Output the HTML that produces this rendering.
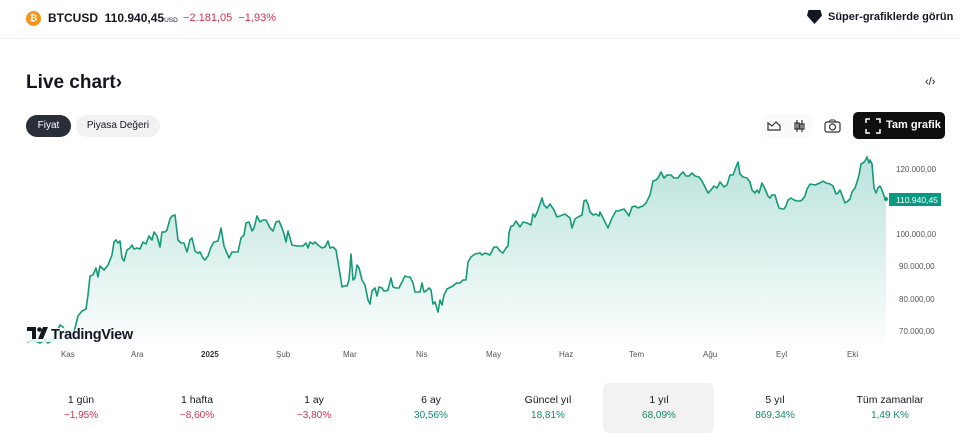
<!DOCTYPE html>
<html><head><meta charset="utf-8"><style>
*{margin:0;padding:0;box-sizing:border-box}
body{width:960px;height:428px;background:#fff;font-family:"Liberation Sans",sans-serif;color:#131722;position:relative;overflow:hidden}
.a{position:absolute;white-space:nowrap}
.x{font-size:8px;color:#555}
.y{font-size:8px;color:#555}
.p{font-size:10.5px;text-align:center;width:110px}
.v{font-size:10px;text-align:center;width:110px}
.r{color:#d0314b}.g{color:#13896d}
</style></head><body>
<div class="a" style="left:0;top:38px;width:960px;height:1px;background:#eee"></div>
<div class="a" style="left:26px;top:11px;width:15px;height:15px;border-radius:50%;background:#f7931a;color:#fff;font-size:9px;font-weight:bold;text-align:center;line-height:15px">₿</div>
<div class="a" style="left:48px;top:11px;font-size:12px;font-weight:bold">BTCUSD&nbsp; 110.940,45<span style="font-size:6.5px;font-weight:normal">USD</span></div>
<div class="a r" style="left:183px;top:12px;font-size:11px">−2.181,05&nbsp; −1,93%</div>
<div class="a" style="left:807px;top:10px;width:15px;height:14px;background:#131722;clip-path:polygon(10% 0,90% 0,100% 40%,50% 100%,0 40%)"></div>
<div class="a" style="left:828px;top:11px;font-size:11px;font-weight:bold">Süper-grafiklerde görün</div>
<div class="a" style="left:26px;top:72px;font-size:19px;font-weight:bold">Live chart›</div>
<div class="a" style="left:925px;top:76px;font-size:11px">‹/›</div>
<div class="a" style="left:26px;top:115px;width:45px;height:22px;border-radius:11px;background:#2a2e39;color:#fff;font-size:10px;line-height:22px;text-align:center">Fiyat</div>
<div class="a" style="left:76px;top:115px;width:84px;height:22px;border-radius:11px;background:#f2f2f2;font-size:10px;line-height:22px;text-align:center">Piyasa Değeri</div>
<div class="a" style="left:762px;top:113px;width:50px;height:25px;border-radius:5px;background:#fafafa"></div>
<svg class="a" style="left:766px;top:117px" width="44" height="18"><path d="M2 13 L2 6 L6 9 L10 5 L14 9 L14 13Z" fill="none" stroke="#333" stroke-width="1.2"/><path d="M31 3v12M29 6h4v6h-4zM36 3v12M34 7h4v5h-4z" fill="none" stroke="#333" stroke-width="1.2"/></svg>
<svg class="a" style="left:823px;top:117px" width="20" height="18"><rect x="2" y="5" width="15" height="10" rx="2" fill="none" stroke="#333" stroke-width="1.2"/><circle cx="9.5" cy="10" r="3" fill="none" stroke="#333" stroke-width="1.2"/><path d="M6 5l1.5-2h4L13 5" fill="none" stroke="#333"/></svg>
<div class="a" style="left:853px;top:112px;width:92px;height:27px;border-radius:5px;background:#0f0f0f;color:#fff;font-size:11px;font-weight:bold;line-height:27px;padding-left:33px">Tam grafik</div>
<svg class="a" style="left:865px;top:118px" width="16" height="16"><path d="M1 5V1h4M11 1h4v4M15 11v4h-4M5 15H1v-4" fill="none" stroke="#fff" stroke-width="1.5"/></svg>
<svg class="a" style="left:0;top:0" width="960" height="428">
<defs><linearGradient id="gr" x1="0" y1="0" x2="0" y2="1"><stop offset="0" stop-color="#089981" stop-opacity="0.28"/><stop offset="1" stop-color="#089981" stop-opacity="0.01"/></linearGradient></defs>
<path d="M27,342 L33,340 40,343 45,340 48,343 53,340 60,325 63,327 70,338 75,328 78,316 82,311 86,309 88,295 90,276 93,275 96,268 98,277 100,266 104,270 108,265 112,255 114,242 116,240 118,243 120,241 122,258 124,261 127,250 130,248 132,245 134,249 137,248 140,249 143,242 146,244 149,236 152,240 154,232 157,236 160,247 162,232 165,232 167,230 170,219 172,216 175,215 178,240 181,243 184,243 187,252 190,240 192,238 195,251 198,253 200,252 203,258 205,260 208,256 211,247 214,242 218,241 221,228 224,246 229,258 232,252 238,252 241,238 244,235 246,223 249,222 252,231 254,228 257,216 260,222 263,220 266,220 270,228 273,231 276,222 279,221 282,228 284,234 286,242 288,231 292,245 297,246 303,246 306,243 308,248 310,242 313,244 315,242 318,245 322,248 325,247 328,241 330,248 333,247 336,250 338,262 340,274 342,287 344,286 347,286 349,280 351,254 353,280 355,278 357,265 359,268 362,280 365,285 368,300 370,304 372,291 375,288 377,296 379,287 382,288 384,291 386,291 388,290 391,278 393,287 396,288 399,288 402,282 405,276 408,277 410,277 413,283 415,292 418,292 420,292 422,283 424,292 426,291 429,288 431,290 433,304 435,302 438,312 440,300 442,305 444,295 447,289 449,288 451,287 453,286 455,284 457,283 460,283 463,280 466,280 468,262 471,257 475,254 480,253 482,255 485,253 490,255 494,247 497,247 500,251 503,253 506,248 508,246 509,233 511,226 513,226 516,221 520,227 523,222 527,223 531,225 533,214 535,217 538,210 542,198 544,205 547,208 550,204 554,210 557,217 560,216 565,214 570,218 572,228 575,219 578,217 582,215 584,201 586,200 588,204 590,212 593,215 596,214 599,216 600,212 604,220 608,228 612,218 616,211 618,211 621,210 624,209 627,213 629,216 632,207 635,206 638,208 640,207 643,206 646,203 650,195 653,181 656,180 658,178 661,172 664,178 667,175 671,175 674,178 678,178 680,175 683,172 686,176 689,176 692,173 695,176 699,177 702,181 705,187 708,193 711,190 714,186 717,188 720,182 724,187 727,185 730,175 733,175 736,167 738,162 740,174 743,177 747,178 750,182 752,190 755,193 757,190 759,193 762,183 765,189 768,196 770,198 772,195 775,195 777,202 779,208 782,209 784,209 786,206 788,200 791,198 794,200 797,201 800,201 802,200 805,196 807,189 810,184 815,185 820,183 823,181 826,183 830,184 833,186 836,194 838,193 840,190 842,195 845,203 848,201 850,199 852,192 855,188 857,182 859,175 861,164 863,163 865,161 867,157 869,163 870,160 872,164 874,188 876,193 878,188 880,186 882,190 884,196 886,199 L886,345 L27,345Z" fill="url(#gr)"/>
<path d="M27,342 L33,340 40,343 45,340 48,343 53,340 60,325 63,327 70,338 75,328 78,316 82,311 86,309 88,295 90,276 93,275 96,268 98,277 100,266 104,270 108,265 112,255 114,242 116,240 118,243 120,241 122,258 124,261 127,250 130,248 132,245 134,249 137,248 140,249 143,242 146,244 149,236 152,240 154,232 157,236 160,247 162,232 165,232 167,230 170,219 172,216 175,215 178,240 181,243 184,243 187,252 190,240 192,238 195,251 198,253 200,252 203,258 205,260 208,256 211,247 214,242 218,241 221,228 224,246 229,258 232,252 238,252 241,238 244,235 246,223 249,222 252,231 254,228 257,216 260,222 263,220 266,220 270,228 273,231 276,222 279,221 282,228 284,234 286,242 288,231 292,245 297,246 303,246 306,243 308,248 310,242 313,244 315,242 318,245 322,248 325,247 328,241 330,248 333,247 336,250 338,262 340,274 342,287 344,286 347,286 349,280 351,254 353,280 355,278 357,265 359,268 362,280 365,285 368,300 370,304 372,291 375,288 377,296 379,287 382,288 384,291 386,291 388,290 391,278 393,287 396,288 399,288 402,282 405,276 408,277 410,277 413,283 415,292 418,292 420,292 422,283 424,292 426,291 429,288 431,290 433,304 435,302 438,312 440,300 442,305 444,295 447,289 449,288 451,287 453,286 455,284 457,283 460,283 463,280 466,280 468,262 471,257 475,254 480,253 482,255 485,253 490,255 494,247 497,247 500,251 503,253 506,248 508,246 509,233 511,226 513,226 516,221 520,227 523,222 527,223 531,225 533,214 535,217 538,210 542,198 544,205 547,208 550,204 554,210 557,217 560,216 565,214 570,218 572,228 575,219 578,217 582,215 584,201 586,200 588,204 590,212 593,215 596,214 599,216 600,212 604,220 608,228 612,218 616,211 618,211 621,210 624,209 627,213 629,216 632,207 635,206 638,208 640,207 643,206 646,203 650,195 653,181 656,180 658,178 661,172 664,178 667,175 671,175 674,178 678,178 680,175 683,172 686,176 689,176 692,173 695,176 699,177 702,181 705,187 708,193 711,190 714,186 717,188 720,182 724,187 727,185 730,175 733,175 736,167 738,162 740,174 743,177 747,178 750,182 752,190 755,193 757,190 759,193 762,183 765,189 768,196 770,198 772,195 775,195 777,202 779,208 782,209 784,209 786,206 788,200 791,198 794,200 797,201 800,201 802,200 805,196 807,189 810,184 815,185 820,183 823,181 826,183 830,184 833,186 836,194 838,193 840,190 842,195 845,203 848,201 850,199 852,192 855,188 857,182 859,175 861,164 863,163 865,161 867,157 869,163 870,160 872,164 874,188 876,193 878,188 880,186 882,190 884,196 886,199" fill="none" stroke="#159a78" stroke-width="1.6" stroke-linejoin="round"/>
<rect x="889" y="193" width="52" height="13" fill="#089981"/>
<text x="896" y="203" font-size="8.5" fill="#fff" font-family="Liberation Sans">110.940,45</text>
<circle cx="886" cy="199" r="2" fill="#159a78"/>
<rect x="26" y="328" width="48" height="14" fill="#f4fbf9" opacity="0.85"/>
<path d="M27 327h9v12h-4v-8h-5z" fill="#131722"/>
<circle cx="39.5" cy="329.5" r="2.3" fill="#131722"/>
<path d="M43 327h5l-5 12h-5z" fill="#131722"/>
<text x="51" y="339" font-size="14.5" font-weight="bold" fill="#131722" font-family="Liberation Sans" letter-spacing="-0.3">TradingView</text>
</svg>
<div class="a y" style="left:896px;top:165px">120.000,00</div>
<div class="a y" style="left:896px;top:230px">100.000,00</div>
<div class="a y" style="left:899px;top:262px">90.000,00</div>
<div class="a y" style="left:899px;top:295px">80.000,00</div>
<div class="a y" style="left:899px;top:327px">70.000,00</div>
<div class="a x" style="left:61px;top:350px">Kas</div>
<div class="a x" style="left:131px;top:350px">Ara</div>
<div class="a x" style="left:201px;top:350px;font-weight:bold;color:#333">2025</div>
<div class="a x" style="left:276px;top:350px">Şub</div>
<div class="a x" style="left:343px;top:350px">Mar</div>
<div class="a x" style="left:416px;top:350px">Nis</div>
<div class="a x" style="left:486px;top:350px">May</div>
<div class="a x" style="left:559px;top:350px">Haz</div>
<div class="a x" style="left:629px;top:350px">Tem</div>
<div class="a x" style="left:703px;top:350px">Ağu</div>
<div class="a x" style="left:776px;top:350px">Eyl</div>
<div class="a x" style="left:847px;top:350px">Eki</div>
<div class="a" style="left:603px;top:383px;width:111px;height:50px;border-radius:6px;background:#f2f2f2"></div>
<div class="a p" style="left:26px;top:394px">1 gün</div><div class="a v r" style="left:26px;top:410px">−1,95%</div>
<div class="a p" style="left:142px;top:394px">1 hafta</div><div class="a v r" style="left:142px;top:410px">−8,60%</div>
<div class="a p" style="left:259px;top:394px">1 ay</div><div class="a v r" style="left:259px;top:410px">−3,80%</div>
<div class="a p" style="left:376px;top:394px">6 ay</div><div class="a v g" style="left:376px;top:410px">30,56%</div>
<div class="a p" style="left:493px;top:394px">Güncel yıl</div><div class="a v g" style="left:493px;top:410px">18,81%</div>
<div class="a p" style="left:604px;top:394px">1 yıl</div><div class="a v g" style="left:604px;top:410px">68,09%</div>
<div class="a p" style="left:720px;top:394px">5 yıl</div><div class="a v g" style="left:720px;top:410px">869,34%</div>
<div class="a p" style="left:835px;top:394px">Tüm zamanlar</div><div class="a v g" style="left:835px;top:410px">1,49 K%</div>
</body></html>
